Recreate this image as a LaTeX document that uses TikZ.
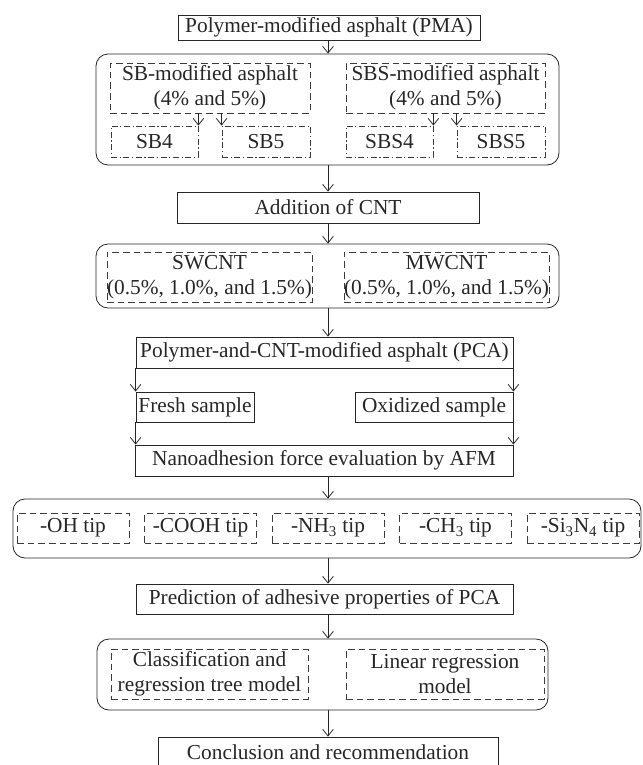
\documentclass[tikz,border=0pt]{standalone}
\usepackage{fontspec}
\setmainfont{Liberation Serif}
\usepackage{tikz}
\usetikzlibrary{arrows.meta,positioning,calc}
\usepackage{xcolor}
\definecolor{ink}{HTML}{262626}
\definecolor{dashink}{HTML}{3C3C3C}
\newcommand{\flowfont}{\fontsize{16}{18.5}\selectfont}

\begin{document}
\begin{tikzpicture}[
    x=0.75pt, y=-0.75pt,
    box/.style 2 args={rectangle, draw=ink, line width=0.6pt, inner sep=0pt, minimum width=#1*0.75pt, minimum height=#2*0.75pt, font=\flowfont, text=ink, align=center},
    group/.style 2 args={box={#1}{#2}, rounded corners=9pt},
    dbox/.style 2 args={box={#1}{#2}, draw=dashink, dash pattern=on 5pt off 3pt},
    ddbox/.style 2 args={box={#1}{#2}, draw=dashink, dash pattern=on 4.5pt off 2pt on 0.8pt off 2pt},
    arr/.style={-{Straight Barb[length=5pt, width=8pt]}, line width=0.6pt, draw=ink}
]
\useasboundingbox (0,0) rectangle (643,765);
\coordinate (axis) at (328,0);

% Polymer-modified asphalt
\node[box={302}{25}] (pma) at (329,27.5) {Polymer-modified asphalt (PMA)};
\node[group={463}{111}] (g1) at (327.5,109.5) {};
\node[dbox={200}{50}] (sbm) at (210,88) {SB-modified asphalt\\(4\% and 5\%)};
\node[dbox={199}{50}] (sbsm) at (445.5,88) {SBS-modified asphalt\\(4\% and 5\%)};
\node[ddbox={87}{31}] (sb4) at (154.5,141.5) {SB4};
\node[ddbox={88}{31}] (sb5) at (266,141.5) {SB5};
\node[ddbox={87}{31}] (sbs4) at (389.5,141.5) {SBS4};
\node[ddbox={88}{31}] (sbs5) at (501,141.5) {SBS5};

% CNT
\node[box={302}{31}] (cnt) at (328,207.5) {Addition of CNT};
\node[group={463}{64}] (g2) at (327.5,276) {};
\node[dbox={199}{50}] (swcnt) at (209.5,277) {SWCNT\\(0.5\%, 1.0\%, and 1.5\%)};
\node[dbox={199}{50}] (mwcnt) at (446.5,277) {MWCNT\\(0.5\%, 1.0\%, and 1.5\%)};

% PCA and samples
\node[box={377}{31}] (pca) at (324.5,352.5) {Polymer-and-CNT-modified asphalt (PCA)};
\node[box={118}{30}] (fresh) at (195,407) {Fresh sample};
\node[box={158}{30}] (oxid) at (434,407) {Oxidized sample};
\node[box={378}{31}] (nano) at (324,460.5) {Nanoadhesion force evaluation by AFM};

% AFM tips
\node[group={628}{59}] (g3) at (327,528.5) {};
\node[dbox={112}{30}] (tip1) at (73,528) {-OH tip};
\node[dbox={112}{30}] (tip2) at (200.5,528) {-COOH tip};
\node[dbox={112}{30}] (tip3) at (328,528) {-NH\textsubscript{3} tip};
\node[dbox={112}{30}] (tip4) at (455.5,528) {-CH\textsubscript{3} tip};
\node[dbox={112}{30}] (tip5) at (583,528) {-Si\textsubscript{3}N\textsubscript{4} tip};

% Prediction
\node[box={377}{30}] (pred) at (324.5,599) {Prediction of adhesive properties of PCA};
\node[group={451}{71}] (g4) at (322.5,674.5) {};
\node[dbox={197}{50}] (cart) at (209.5,674) {Classification and\\regression tree model};
\node[dbox={198}{50}] (linreg) at (445,674) {Linear regression\\model};
\node[box={340}{31}] (concl) at (328,752.5) {Conclusion and recommendation};

% arrows
\draw[arr] (pma.south -| axis) -- (g1.north -| axis);
\draw[arr] (sbm.south -| sb4.east) -- (sb4.north east);
\draw[arr] (sbm.south -| sb5.west) -- (sb5.north west);
\draw[arr] (sbsm.south -| sbs4.east) -- (sbs4.north east);
\draw[arr] (sbsm.south -| sbs5.west) -- (sbs5.north west);
\draw[arr] (g1.south -| axis) -- (cnt.north -| axis);
\draw[arr] (cnt.south -| axis) -- (g2.north -| axis);
\draw[arr] (g2.south -| axis) -- (pca.north -| axis);
\draw[arr] (pca.south west) -- (fresh.north west);
\draw[arr] (pca.south east) -- (oxid.north east);
\draw[arr] (fresh.south west) -- (fresh.south west |- nano.north);
\draw[arr] (oxid.south east) -- (oxid.south east |- nano.north);
\draw[arr] (nano.south -| axis) -- (g3.north -| axis);
\draw[arr] (g3.south -| axis) -- (pred.north -| axis);
\draw[arr] (pred.south -| axis) -- (g4.north -| axis);
\draw[arr] (g4.south -| axis) -- (concl.north -| axis);

\end{tikzpicture}
\end{document}
